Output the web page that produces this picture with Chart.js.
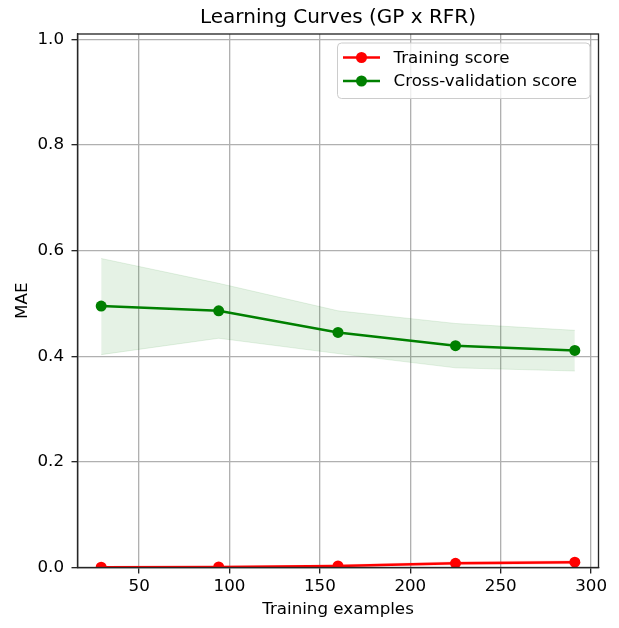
<!DOCTYPE html>
<html>
<head>
<meta charset="utf-8">
<script src="https://cdn.jsdelivr.net/npm/chart.js@4.4.0/dist/chart.umd.min.js"></script>
<style>
  html, body { margin: 0; padding: 0; background: #ffffff; }
  #wrap { width: 619px; height: 628px; }
</style>
</head>
<body>
<div id="wrap"><canvas id="chart" width="619" height="628"></canvas></div>
<script>
// Learning-curve results: training set sizes and mean MAE with the ±1 std band edges
const trainSizes = [29, 94, 160, 225, 291];

const trainScore = [0.0005, 0.001, 0.003, 0.008, 0.010];
const trainUpper = [0.001, 0.002, 0.005, 0.011, 0.013];
const trainLower = [0.000, 0.000, 0.001, 0.005, 0.007];

const cvScore = [0.495, 0.486, 0.445, 0.420, 0.411];
const cvUpper = [0.585, 0.538, 0.486, 0.462, 0.449];
const cvLower = [0.403, 0.434, 0.405, 0.378, 0.372];

const chartTitle = 'Learning Curves (GP x RFR)';
const seriesNames = ['Training score', 'Cross-validation score'];
const xTickValues = [50, 100, 150, 200, 250, 300];
const yTickValues = [0.0, 0.2, 0.4, 0.6, 0.8, 1.0];

const FONT = 'DejaVu Sans';
const RED = '#ff0000';
const GREEN = '#008000';

const pts = (ys) => trainSizes.map((x, i) => ({ x: x, y: ys[i] }));

// Title centred over the plotting area rather than the whole canvas
const axesTitlePlugin = {
  id: 'axesTitle',
  afterDraw(chart) {
    const { ctx, chartArea: a } = chart;
    ctx.save();
    ctx.font = '20px "' + FONT + '"';
    ctx.fillStyle = '#000000';
    ctx.textAlign = 'center';
    ctx.textBaseline = 'middle';
    ctx.fillText(chartTitle, (a.left + a.right) / 2, 18);
    ctx.restore();
  }
};

// Box spines on all four sides
const spinePlugin = {
  id: 'spines',
  afterDatasetsDraw(chart) {
    const { ctx, chartArea: a } = chart;
    ctx.save();
    ctx.strokeStyle = '#262626';
    ctx.lineWidth = 1.33;
    ctx.strokeRect(a.left, a.top, a.right - a.left, a.bottom - a.top);
    ctx.restore();
  }
};

// Legend box in the upper-right corner: line handle with a round marker
const legendPlugin = {
  id: 'cornerLegend',
  afterDraw(chart) {
    const { ctx, chartArea: a } = chart;
    const items = chart.data.datasets.filter(d => d.inLegend);
    const fontSize = 16.7;
    const w = 252.5, rowH = 23.5, h = 55.5;
    const x0 = a.right - 8.5 - w, y0 = a.top + 9;
    ctx.save();
    ctx.beginPath();
    ctx.roundRect(x0, y0, w, h, 4);
    ctx.fillStyle = 'rgba(255,255,255,0.8)';
    ctx.fill();
    ctx.strokeStyle = '#cccccc';
    ctx.lineWidth = 1;
    ctx.stroke();
    ctx.font = fontSize + 'px "' + FONT + '"';
    ctx.textBaseline = 'middle';
    ctx.textAlign = 'left';
    items.forEach((d, i) => {
      const cy = y0 + 14.5 + i * rowH;
      ctx.strokeStyle = d.borderColor;
      ctx.lineWidth = 2.5;
      ctx.beginPath();
      ctx.moveTo(x0 + 5.5, cy);
      ctx.lineTo(x0 + 42.5, cy);
      ctx.stroke();
      ctx.fillStyle = d.borderColor;
      ctx.beginPath();
      ctx.arc(x0 + 24, cy, 5.5, 0, Math.PI * 2);
      ctx.fill();
      ctx.fillStyle = '#000000';
      ctx.fillText(d.label, x0 + 56, cy + 1);
    });
    ctx.restore();
  }
};

const bandStyle = (color, fill) => ({
  borderWidth: 1,
  borderColor: color,
  backgroundColor: color,
  pointRadius: 0,
  pointHoverRadius: 0,
  fill: fill,
  tension: 0,
  order: 3,
  clip: 0
});

const lineStyle = (color) => ({
  borderColor: color,
  backgroundColor: color,
  borderWidth: 2.5,
  pointRadius: 5.5,
  pointHoverRadius: 5.5,
  pointBorderWidth: 0,
  pointBackgroundColor: color,
  fill: false,
  tension: 0,
  order: 1,
  clip: 0,
  inLegend: true
});

new Chart(document.getElementById('chart'), {
  type: 'line',
  data: {
    datasets: [
      Object.assign({ label: 'cv-upper', data: pts(cvUpper) }, bandStyle('rgba(0,128,0,0.1)', false)),
      Object.assign({ label: 'cv-lower', data: pts(cvLower) }, bandStyle('rgba(0,128,0,0.1)', '-1')),
      Object.assign({ label: 'train-upper', data: pts(trainUpper) }, bandStyle('rgba(255,0,0,0.1)', false)),
      Object.assign({ label: 'train-lower', data: pts(trainLower) }, bandStyle('rgba(255,0,0,0.1)', '-1')),
      Object.assign({ label: seriesNames[0], data: pts(trainScore) }, lineStyle(RED)),
      Object.assign({ label: seriesNames[1], data: pts(cvScore) }, lineStyle(GREEN))
    ]
  },
  options: {
    responsive: false,
    devicePixelRatio: 1,
    animation: false,
    events: [],
    layout: { padding: { left: 0, top: 34, right: 20.5, bottom: 0 } },
    plugins: {
      legend: { display: false },
      tooltip: { enabled: false },
      title: { display: false }
    },
    scales: {
      x: {
        type: 'linear',
        min: 15.9,
        max: 304.1,
        afterBuildTicks: (s) => { s.ticks = xTickValues.map(v => ({ value: v })); },
        afterFit: (s) => { s.height = 60.5; },
        ticks: {
          autoSkip: false,
          maxRotation: 0,
          padding: 3,
          color: '#000000',
          font: { family: FONT, size: 16.7 },
          callback: (v) => String(v)
        },
        grid: { color: '#b0b0b0', lineWidth: 1.33, tickColor: '#262626', tickWidth: 1.33, tickLength: 6 },
        border: { display: true, color: '#262626', width: 1.33 },
        title: {
          display: true,
          text: 'Training examples',
          color: '#000000',
          font: { family: FONT, size: 16.7, lineHeight: 1.2 },
          padding: { top: 0, bottom: 8.5 }
        }
      },
      y: {
        type: 'linear',
        min: 0,
        max: 1.01,
        afterBuildTicks: (s) => { s.ticks = yTickValues.map(v => ({ value: v })); },
        afterFit: (s) => { s.width = 77.5; },
        ticks: {
          autoSkip: false,
          padding: 7.5,
          color: '#000000',
          font: { family: FONT, size: 16.7 },
          callback: (v) => Number(v).toFixed(1)
        },
        grid: { color: '#b0b0b0', lineWidth: 1.33, tickColor: '#262626', tickWidth: 1.33, tickLength: 6 },
        border: { display: true, color: '#262626', width: 1.33 },
        title: {
          display: true,
          text: 'MAE',
          color: '#000000',
          font: { family: FONT, size: 16.7, lineHeight: 1.2 },
          padding: { top: 13, bottom: 0 }
        }
      }
    }
  },
  plugins: [spinePlugin, legendPlugin, axesTitlePlugin]
});
</script>
</body>
</html>
